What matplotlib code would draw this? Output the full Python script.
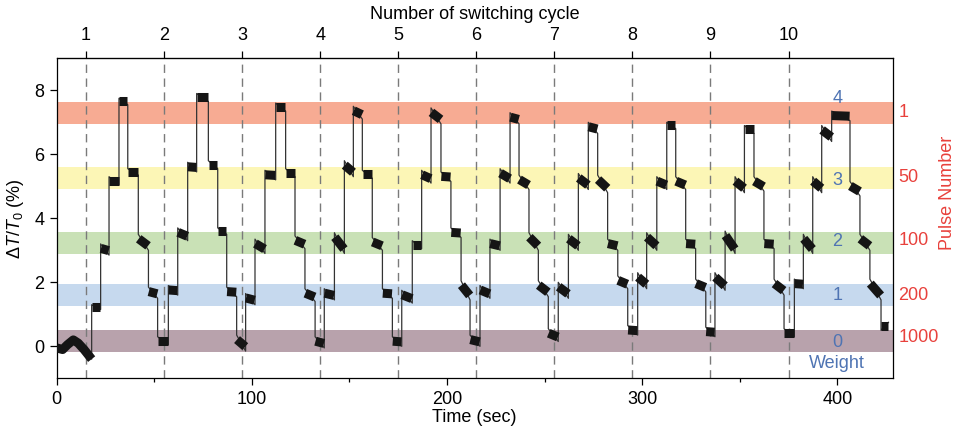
import matplotlib
matplotlib.use('Agg')
import matplotlib.pyplot as plt
import matplotlib.transforms as mtransforms

plt.rcParams['font.family'] = ['Liberation Sans', 'DejaVu Sans']
plt.rcParams['mathtext.fontset'] = 'custom'
plt.rcParams['mathtext.rm'] = 'Liberation Sans'
plt.rcParams['mathtext.it'] = 'Liberation Sans:italic'

# weight levels (colored bands)
band_lo = [6.95, 4.93, 2.90, 1.26, -0.18]
band_hi = [7.63, 5.60, 3.57, 1.94, 0.52]
band_colors = ['#f7ab93', '#fcf6b6', '#c9e1b6', '#c6d9ee', '#b8a2ac']
weight_labels = ['4', '3', '2', '1', '0']
weight_y = [7.74, 5.19, 3.26, 1.60, 0.13]
pulse_labels = ['1', '50', '100', '200', '1000']
pulse_y = [7.32, 5.29, 3.31, 1.59, 0.26]

# switching cycles (top axis)
cycle_t = [15, 55, 95, 135, 175, 215, 255, 295, 335, 375]
cycle_labels = ['1', '2', '3', '4', '5', '6', '7', '8', '9', '10']

# baseline before the first pulse
base_t = [0, 3, 5.5, 8.5, 11, 14, 17.9]
base_v = [-0.05, -0.1, 0.05, 0.2, 0.1, -0.1, -0.4]

# plateaus: start time, value at start (upper left), value at end (lower right)
step_t = [17.9, 22.5, 26.8, 31.9, 36.4, 41.8, 47.0, 51.7,
          57.2, 62.0, 67.1, 71.7, 77.7, 82.5, 87.1, 92.2,
          96.8, 101.6, 106.7, 112.2, 117.3, 122.1, 127.2, 132.4,
          137.1, 142.3, 147.4, 152.0, 156.6, 161.7, 166.9, 172.0,
          176.8, 182.2, 187.0, 191.8, 196.9, 202.0, 207.2, 211.8,
          216.9, 222.0, 227.2, 232.3, 236.9, 242.0, 246.8, 251.9,
          257.0, 262.2, 267.3, 272.4, 277.2, 282.3, 287.5, 292.6,
          297.7, 302.3, 307.5, 312.6, 317.2, 322.3, 327.4, 332.6,
          337.3, 342.5, 347.6, 352.4, 357.3, 362.4, 367.6, 372.7,
          378.0, 382.6, 387.4, 392.0, 397.1, 406.5, 411.6, 416.7, 422.4]
step_v0 = [1.3, 3.2, 5.3, 7.75, 5.55, 3.5, 1.85, 0.3,
           1.9, 3.7, 5.75, 7.9, 5.8, 3.7, 1.85, 0.35,
           1.65, 3.35, 5.5, 7.6, 5.55, 3.45, 1.8, 0.3,
           1.8, 3.55, 5.8, 7.5, 5.5, 3.4, 1.8, 0.3,
           1.75, 3.3, 5.5, 7.45, 5.45, 3.7, 2.05, 0.35,
           1.9, 3.35, 5.55, 7.3, 5.35, 3.55, 2.05, 0.55,
           2.0, 3.5, 5.4, 7.0, 5.35, 3.35, 2.2, 0.65,
           2.3, 3.55, 5.3, 7.0, 5.3, 3.35, 2.1, 0.6,
           2.3, 3.6, 5.3, 6.9, 5.3, 3.35, 2.1, 0.55,
           2.1, 3.5, 5.3, 6.9, 7.35, 5.15, 3.5, 2.1, 0.5]
step_v1 = [1.15, 2.85, 5.05, 7.55, 5.35, 3.0, 1.5, 0.05,
           1.6, 3.3, 5.45, 7.65, 5.55, 3.5, 1.55, -0.15,
           1.3, 2.9, 5.2, 7.35, 5.3, 3.05, 1.4, -0.05,
           1.45, 2.9, 5.3, 7.1, 5.25, 3.0, 1.5, 0.0,
           1.35, 3.05, 5.1, 6.95, 5.15, 3.4, 1.45, 0.0,
           1.5, 3.0, 5.1, 6.95, 4.9, 3.0, 1.55, 0.15,
           1.5, 3.0, 4.9, 6.65, 4.8, 3.0, 1.8, 0.35,
           1.8, 3.0, 4.9, 6.8, 4.9, 3.05, 1.7, 0.3,
           1.75, 2.9, 4.8, 6.65, 4.85, 3.05, 1.6, 0.3,
           1.8, 2.9, 4.8, 6.4, 7.05, 4.7, 3.0, 1.45, 0.75]
end_t = 426.2

fig = plt.figure(figsize=(9.55, 4.34), dpi=100)
ax = fig.add_axes([0.0594, 0.1283, 0.8754, 0.7374])

for lo, hi, c in zip(band_lo, band_hi, band_colors):
    ax.axhspan(lo, hi, color=c, lw=0, zorder=0)

for t in cycle_t:
    ax.axvline(t, color='#7a7a7a', lw=1.0, dashes=(6, 4), zorder=1)

# trace: thin connecting line + thick noisy plateaus
xs, ys = list(base_t), list(base_v)
for i, t0 in enumerate(step_t):
    t1 = step_t[i + 1] if i + 1 < len(step_t) else end_t
    xs += [t0, t1]
    ys += [step_v0[i], step_v1[i]]
ax.plot(xs, ys, color='#333333', lw=0.9, zorder=2)

thick = 6.5  # pt, roughly the noise band of the trace
half = 0.14  # same thickness in data units
ax.plot(base_t, base_v, color='#151515', lw=thick, zorder=3,
        solid_capstyle='butt', solid_joinstyle='round')
for i, t0 in enumerate(step_t):
    t1 = step_t[i + 1] if i + 1 < len(step_t) else end_t
    a, b = step_v0[i], step_v1[i]
    d = min(half, abs(a - b) / 2)
    if a > b:
        a, b = a - d, b + d
    else:
        a, b = a + d, b - d
    ax.plot([t0 + 0.2, t1 - 0.2], [a, b], color='#151515',
            lw=thick, zorder=3, solid_capstyle='butt')

ax.set_xlim(0, 428.4)
ax.set_ylim(-1, 9)
ax.set_xticks([0, 100, 200, 300, 400])
ax.set_xticks([50, 150, 250, 350], minor=True)
ax.set_yticks([0, 2, 4, 6, 8])
ax.tick_params(axis='both', which='major', length=5, width=0.9, labelsize=13, pad=4)
ax.tick_params(axis='x', which='minor', length=3, width=0.9)
for s in ax.spines.values():
    s.set_linewidth(0.9)
ax.set_xlabel('Time (sec)', fontsize=13, labelpad=1)
ax.set_ylabel(r'$\Delta\mathit{T}/\mathit{T}_0$ (%)', fontsize=13, labelpad=6)

top = ax.secondary_xaxis('top')
top.set_xticks(cycle_t, labels=cycle_labels)
top.tick_params(length=5, width=0.9, labelsize=13, pad=5)
top.set_xlabel('Number of switching cycle', fontsize=13, labelpad=6)

blue = '#4f74b3'
red = '#e8413c'
for lab, y in zip(weight_labels, weight_y):
    ax.text(400, y, lab, color=blue, fontsize=13, ha='center', va='center', zorder=4)
ax.text(400, -0.53, 'Weight', color=blue, fontsize=13, ha='center', va='center', zorder=4)

trans = mtransforms.blended_transform_factory(ax.transAxes, ax.transData)
for lab, y in zip(pulse_labels, pulse_y):
    ax.text(1.0065, y, lab, color=red, fontsize=13, ha='left', va='center',
            transform=trans, clip_on=False)
ax.text(1.065, 4.8, 'Pulse Number', color=red, fontsize=13, rotation=90,
        ha='center', va='center', transform=trans, clip_on=False)

fig.savefig('out.png', dpi=100)
